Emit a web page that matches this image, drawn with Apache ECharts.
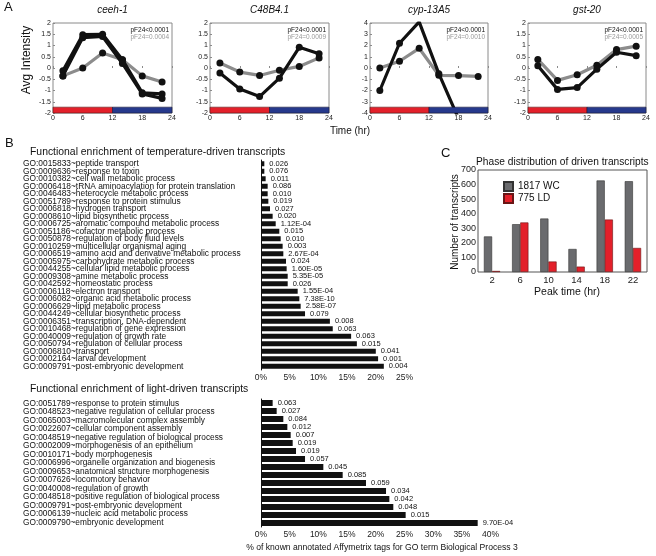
<!DOCTYPE html>
<html>
<head>
<meta charset="utf-8">
<script src="https://cdn.jsdelivr.net/npm/echarts@6/dist/echarts.min.js"></script>
<style>html,body{margin:0;padding:0;background:#fff}#c{width:656px;height:556px}</style>
</head>
<body>
<div id="c"></div>
<script>
// ---------- Panel A data ----------
const timePoints = [2, 6, 10, 14, 18, 22];
const ceehBlack1 = [-0.12, 1.48, 1.5, 0.37, -1.1, -1.15];
const ceehBlack2 = [-0.35, 1.35, 1.4, 0.2, -1.15, -1.35];
const ceehGray = [-0.35, 0.0, 0.67, 0.37, -0.35, -0.62];
const c48Black = [-0.22, -0.93, -1.27, -0.45, 0.92, 0.63];
const c48Gray = [0.22, -0.18, -0.33, -0.1, 0.07, 0.45];
const cypBlack = [-2.0, 2.2, 4.1, -0.5, -4.5, -4.5];
const cypGray = [0.0, 0.6, 1.75, -0.65, -0.67, -0.75];
const gstBlack = [0.1, -0.95, -0.87, -0.05, 0.7, 0.55];
const gstGray = [0.38, -0.55, -0.3, 0.12, 0.82, 0.97];
const geneNames = ['ceeh-1', 'C48B4.1', 'cyp-13A5', 'gst-20'];
const pBlack = ['pF24<0.0001', 'pF24<0.0001', 'pF24<0.0001', 'pF24<0.0001'];
const pGray = ['pF24=0.0004', 'pF24=0.0009', 'pF24=0.0010', 'pF24=0.0005'];

// ---------- Panel B data ----------
const tempTerms = [
  'GO:0015833~peptide transport',
  'GO:0009636~response to toxin',
  'GO:0010382~cell wall metabolic process',
  'GO:0006418~tRNA aminoacylation for protein translation',
  'GO:0046483~heterocycle metabolic process',
  'GO:0051789~response to protein stimulus',
  'GO:0006818~hydrogen transport',
  'GO:0008610~lipid biosynthetic process',
  'GO:0006725~aromatic compound metabolic process',
  'GO:0051186~cofactor metabolic process',
  'GO:0050878~regulation of body fluid levels',
  'GO:0010259~multicellular organismal aging',
  'GO:0006519~amino acid and derivative metabolic process',
  'GO:0005975~carbohydrate metabolic process',
  'GO:0044255~cellular lipid metabolic process',
  'GO:0009308~amine metabolic process',
  'GO:0042592~homeostatic process',
  'GO:0006118~electron transport',
  'GO:0006082~organic acid metabolic process',
  'GO:0006629~lipid metabolic process',
  'GO:0044249~cellular biosynthetic process',
  'GO:0006351~transcription, DNA-dependent',
  'GO:0010468~regulation of gene expression',
  'GO:0040009~regulation of growth rate',
  'GO:0050794~regulation of cellular process',
  'GO:0006810~transport',
  'GO:0002164~larval development',
  'GO:0009791~post-embryonic development'
];
const tempPercent = [0.58, 0.58, 0.81, 1.16, 1.16, 1.28, 1.57, 2.03, 2.56, 3.19, 3.43, 3.77, 3.89, 4.36,
  4.47, 4.65, 4.65, 6.39, 6.68, 6.91, 7.67, 12.0, 12.5, 15.7, 16.7, 20.0, 20.4, 21.4];
const tempPvals = ['0.026', '0.076', '0.011', '0.086', '0.010', '0.019', '0.027', '0.020', '1.12E-04', '0.015',
  '0.010', '0.003', '2.67E-04', '0.024', '1.60E-05', '5.35E-05', '0.026', '1.55E-04', '7.38E-10', '2.58E-07',
  '0.079', '0.008', '0.063', '0.063', '0.015', '0.041', '0.001', '0.004'];

const lightTerms = [
  'GO:0051789~response to protein stimulus',
  'GO:0048523~negative regulation of cellular process',
  'GO:0065003~macromolecular complex assembly',
  'GO:0022607~cellular component assembly',
  'GO:0048519~negative regulation of biological process',
  'GO:0002009~morphogenesis of an epithelium',
  'GO:0010171~body morphogenesis',
  'GO:0006996~organelle organization and biogenesis',
  'GO:0009653~anatomical structure morphogenesis',
  'GO:0007626~locomotory behavior',
  'GO:0040008~regulation of growth',
  'GO:0048518~positive regulation of biological process',
  'GO:0009791~post-embryonic development',
  'GO:0006139~nucleic acid metabolic process',
  'GO:0009790~embryonic development'
];
const lightPercent = [2.03, 2.73, 3.89, 4.59, 5.17, 5.52, 6.10, 7.67, 10.86, 14.23, 18.29, 21.78, 22.36, 23.05, 25.2, 37.75];
const lightPvals = ['0.063', '0.027', '0.084', '0.012', '0.007', '0.019', '0.019', '0.057', '0.045', '0.085',
  '0.059', '0.034', '0.042', '0.048', '0.015', '9.70E-04'];

// ---------- Panel C data ----------
const peakTimes = ['2', '6', '10', '14', '18', '22'];
const wcCounts = [244, 328, 367, 158, 628, 623];
const ldCounts = [7, 340, 72, 37, 360, 165];

// ---------- build ----------
const FONT = 'Liberation Sans, Arial, sans-serif';
const chart = echarts.init(document.getElementById('c'), null, {renderer: 'canvas'});

const aBoxes = [
  {left: 53, width: 119}, {left: 210, width: 119}, {left: 370, width: 118}, {left: 528, width: 118}
];
const aTop = 23, aH = 90;
const aRanges = [[-2, 2, 0.5], [-2, 2, 0.5], [-4, 4, 1], [-2, 2, 0.5]];
const aBlack = [[ceehBlack1, ceehBlack2], [c48Black], [cypBlack], [gstBlack]];
const aGray = [ceehGray, c48Gray, cypGray, gstGray];

const grids = [], xAxes = [], yAxes = [], series = [], graphics = [];
const pairs = arr => arr.map((v, i) => [timePoints[i], v]);

aBoxes.forEach((b, k) => {
  grids.push({left: b.left, top: aTop, width: b.width, height: aH, show: true, borderColor: '#8a8a8a', borderWidth: 1});
  xAxes.push({gridIndex: k, type: 'value', min: 0, max: 24, interval: 6,
    axisLine: {show: false}, axisTick: {show: true, inside: true, length: 2, lineStyle: {color: '#8a8a8a'}},
    splitLine: {show: false}, axisLabel: {fontSize: 7, color: '#222', margin: 2, fontFamily: FONT}});
  const r = aRanges[k];
  yAxes.push({gridIndex: k, type: 'value', min: r[0], max: r[1], interval: r[2],
    axisLine: {show: false}, axisTick: {show: true, inside: true, length: 2, lineStyle: {color: '#8a8a8a'}},
    splitLine: {show: false}, axisLabel: {fontSize: 7, color: '#222', margin: 2, fontFamily: FONT}});
  const band = (r[1] - r[0]) * 0.065;
  series.push({type: 'line', xAxisIndex: k, yAxisIndex: k, data: pairs(aGray[k]), z: 2,
    lineStyle: {color: '#8c8c8c', width: 3.2}, itemStyle: {color: '#111'}, symbol: 'circle', symbolSize: 7,
    showAllSymbol: true, animation: false, clip: true});
  aBlack[k].forEach(arr => {
    series.push({type: 'line', xAxisIndex: k, yAxisIndex: k, data: pairs(arr), z: 3,
      lineStyle: {color: '#111', width: 3.2}, itemStyle: {color: '#111'}, symbol: 'circle', symbolSize: 7,
      showAllSymbol: true, animation: false, clip: true});
  });
  series.push({type: 'line', xAxisIndex: k, yAxisIndex: k, data: [], z: 6, animation: false,
    markArea: {silent: true, z: 6, animation: false, data: [
      [{xAxis: 0, yAxis: r[0], itemStyle: {color: '#e3202a', borderColor: '#5a1a1a', borderWidth: 0.6}}, {xAxis: 12, yAxis: r[0] + band}],
      [{xAxis: 12, yAxis: r[0], itemStyle: {color: '#26398c', borderColor: '#1a1a3a', borderWidth: 0.6}}, {xAxis: 24, yAxis: r[0] + band}]
    ]}});
  graphics.push({type: 'text', x: b.left + b.width / 2, y: 10, style: {text: geneNames[k], font: 'italic 10px ' + FONT, fill: '#111', textAlign: 'center', textVerticalAlign: 'middle'}});
  graphics.push({type: 'text', x: b.left + b.width - 3, y: 30, style: {text: pBlack[k], font: '6.5px ' + FONT, fill: '#111', textAlign: 'right', textVerticalAlign: 'middle'}});
  graphics.push({type: 'text', x: b.left + b.width - 3, y: 37.5, style: {text: pGray[k], font: '6.5px ' + FONT, fill: '#999', textAlign: 'right', textVerticalAlign: 'middle'}});
});

// Panel C
const gC = grids.length;
grids.push({left: 478, top: 170, width: 169, height: 102, show: true, borderColor: '#555', borderWidth: 1});
xAxes.push({gridIndex: gC, type: 'category', data: peakTimes, axisLine: {show: false}, axisTick: {show: false},
  axisLabel: {fontSize: 9.5, color: '#222', margin: 3, fontFamily: FONT}});
yAxes.push({gridIndex: gC, type: 'value', min: 0, max: 700, interval: 100, axisLine: {show: false}, axisTick: {show: false},
  splitLine: {show: false}, axisLabel: {fontSize: 9, color: '#222', margin: 2, fontFamily: FONT}});
series.push({type: 'bar', name: '1817 WC', xAxisIndex: gC, yAxisIndex: gC, data: wcCounts, barWidth: '29%', barGap: '0%',
  itemStyle: {color: '#6a6b6e', borderColor: '#333', borderWidth: 0.6}, animation: false});
series.push({type: 'bar', name: '775 LD', xAxisIndex: gC, yAxisIndex: gC, data: ldCounts, barWidth: '29%', barGap: '0%',
  itemStyle: {color: '#e3202a', borderColor: '#6a1515', borderWidth: 0.6}, animation: false});

// Panel B top
const gT = grids.length;
const rowT = 7.5;
grids.push({left: 261, top: 160, width: 143.5, height: rowT * tempTerms.length});
xAxes.push({gridIndex: gT, type: 'value', min: 0, max: 25, interval: 5, axisLine: {show: false}, axisTick: {show: false},
  splitLine: {show: false}, axisLabel: {fontSize: 8.5, color: '#222', margin: 3, formatter: '{value}%', fontFamily: FONT}});
yAxes.push({gridIndex: gT, type: 'category', data: tempTerms, inverse: true, axisLine: {show: true, lineStyle: {color: '#111', width: 1}},
  axisTick: {show: false}, axisLabel: {fontSize: 8.4, color: '#111', align: 'left', margin: 238, fontFamily: FONT, interval: 0}});
series.push({type: 'bar', xAxisIndex: gT, yAxisIndex: gT, data: tempPercent, barWidth: 5,
  itemStyle: {color: '#111'}, animation: false,
  label: {show: true, position: 'right', distance: 5, fontSize: 7.5, color: '#111', fontFamily: FONT,
    formatter: p => tempPvals[p.dataIndex]}});

// Panel B bottom
const gL = grids.length;
const rowL = 8;
grids.push({left: 261, top: 399, width: 229.6, height: rowL * lightPercent.length});
xAxes.push({gridIndex: gL, type: 'value', min: 0, max: 40, interval: 5, axisLine: {show: false}, axisTick: {show: false},
  splitLine: {show: false}, axisLabel: {fontSize: 8.5, color: '#222', margin: 3, formatter: '{value}%', fontFamily: FONT}});
const yL1 = yAxes.length;
yAxes.push({gridIndex: gL, type: 'category', data: lightPercent.map((v, i) => 'r' + i), inverse: true,
  axisLine: {show: true, lineStyle: {color: '#111', width: 1}}, axisTick: {show: false}, axisLabel: {show: false}});
const yL2 = yAxes.length;
yAxes.push({gridIndex: gL, type: 'category', data: lightTerms, inverse: true, position: 'left',
  axisLine: {show: false}, axisTick: {show: false},
  axisLabel: {fontSize: 8.3, color: '#111', align: 'left', margin: 238, fontFamily: FONT, interval: 0}});
series.push({type: 'bar', xAxisIndex: gL, yAxisIndex: yL1, data: lightPercent, barWidth: 6,
  itemStyle: {color: '#111'}, animation: false,
  label: {show: true, position: 'right', distance: 5, fontSize: 7.5, color: '#111', fontFamily: FONT,
    formatter: p => lightPvals[p.dataIndex]}});
series.push({type: 'bar', xAxisIndex: gL, yAxisIndex: yL2, data: [], animation: false});

// Text annotations
const T = (text, x, y, font, opts) => Object.assign({type: 'text', x, y,
  style: Object.assign({text, font: font + ' ' + FONT, fill: '#111', textAlign: 'left', textVerticalAlign: 'middle'}, opts || {})});
graphics.push(T('A', 4, 7, '13px'));
graphics.push(Object.assign(T('Avg Intensity', 27, 60, '12px', {textAlign: 'center'}), {rotation: Math.PI / 2}));
graphics.push(T('Time (hr)', 350, 131, '10px', {textAlign: 'center'}));
graphics.push(T('B', 5, 143, '13px'));
graphics.push(T('Functional enrichment of temperature-driven transcripts', 30, 152, '10.4px'));
graphics.push(T('Functional enrichment of light-driven transcripts', 30, 389, '10.4px'));
graphics.push(T('% of known annotated Affymetrix tags for GO term Biological Process 3', 382, 548, '8.6px', {textAlign: 'center'}));
graphics.push(T('C', 441, 153, '13px'));
graphics.push(T('Phase distribution of driven transcripts', 476, 162, '10.2px'));
graphics.push(Object.assign(T('Number of transcripts', 455, 222, '10px', {textAlign: 'center'}), {rotation: Math.PI / 2}));
graphics.push(T('Peak time (hr)', 567, 292, '10.5px', {textAlign: 'center'}));

chart.setOption({
  animation: false,
  textStyle: {fontFamily: FONT},
  grid: grids, xAxis: xAxes, yAxis: yAxes, series: series,
  legend: {left: 498, top: 176, orient: 'vertical', itemWidth: 9, itemHeight: 9, itemGap: 1,
    data: ['1817 WC', '775 LD'], textStyle: {fontSize: 10, color: '#111', fontFamily: FONT}, icon: 'rect'},
  graphic: graphics
});
</script>
</body>
</html>
